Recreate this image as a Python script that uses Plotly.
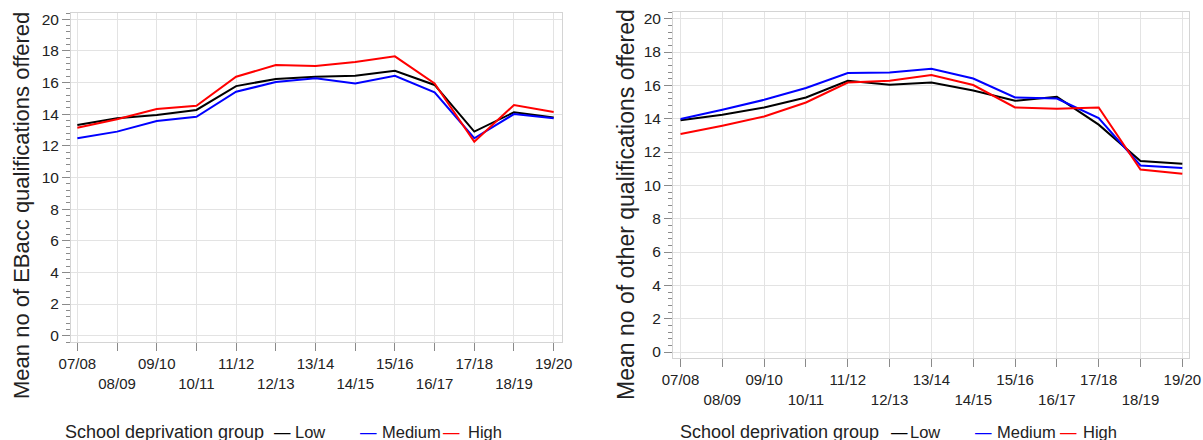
import plotly.graph_objects as go

W, H = 1203, 440

years = ["07/08", "08/09", "09/10", "10/11", "11/12", "12/13", "13/14",
         "14/15", "15/16", "16/17", "17/18", "18/19", "19/20"]

# Left chart: Mean no of EBacc qualifications offered
ebacc_low = [13.32, 13.74, 13.95, 14.27, 15.78, 16.23, 16.37, 16.43, 16.75, 15.85, 12.90, 14.12, 13.80]
ebacc_medium = [12.48, 12.90, 13.57, 13.84, 15.42, 16.04, 16.27, 15.95, 16.43, 15.38, 12.48, 14.01, 13.74]
ebacc_high = [13.15, 13.68, 14.33, 14.54, 16.37, 17.11, 17.05, 17.30, 17.66, 15.95, 12.26, 14.58, 14.14]

# Right chart: Mean no of other qualifications offered
other_low = [13.90, 14.24, 14.67, 15.27, 16.27, 16.04, 16.17, 15.69, 15.07, 15.31, 13.64, 11.46, 11.30]
other_medium = [13.98, 14.53, 15.13, 15.84, 16.74, 16.77, 17.00, 16.41, 15.27, 15.21, 14.04, 11.19, 11.04]
other_high = [13.08, 13.58, 14.13, 14.97, 16.17, 16.27, 16.62, 16.02, 14.67, 14.60, 14.67, 10.95, 10.70]

groups = ["Low", "Medium", "High"]
colors = {"Low": "#000000", "Medium": "#0000ff", "High": "#ff0000"}

tick_text = [y if i % 2 == 0 else "<br>" + y for i, y in enumerate(years)]

FONT = "Liberation Sans, Arial, sans-serif"
TXT = "#222222"
GRID = "#e3e3e3"
FRAME = "#d4d4d4"
TICKC = "#8a8a8a"

fig = go.Figure()

left = {"Low": ebacc_low, "Medium": ebacc_medium, "High": ebacc_high}
right = {"Low": other_low, "Medium": other_medium, "High": other_high}

for g in groups:
    fig.add_trace(go.Scatter(x=years, y=left[g], mode="lines", name=g,
                             line=dict(color=colors[g], width=2),
                             xaxis="x", yaxis="y", showlegend=False))
for g in groups:
    fig.add_trace(go.Scatter(x=years, y=right[g], mode="lines", name=g,
                             line=dict(color=colors[g], width=2),
                             xaxis="x2", yaxis="y2", showlegend=False))


def px_x(p):
    return p / W


def px_y(p):
    return 1 - p / H


xcommon = dict(type="category", tickmode="array", tickvals=years, ticktext=tick_text,
               showgrid=True, gridcolor=GRID, gridwidth=1,
               showline=True, linecolor=FRAME, linewidth=1, mirror=True,
               ticks="outside", ticklen=8, tickcolor=TICKC, tickwidth=1,
               tickfont=dict(size=15, color=TXT, family=FONT), tickangle=0,
               zeroline=False, fixedrange=True, automargin=False)
ycommon = dict(tickmode="linear", tick0=0, dtick=2,
               showgrid=True, gridcolor=GRID, gridwidth=1,
               showline=True, linecolor=FRAME, linewidth=1, mirror=True,
               ticks="outside", ticklen=8, tickcolor=TICKC, tickwidth=1,
               tickfont=dict(size=15.5, color=TXT, family=FONT),
               minor=dict(ticks="outside", ticklen=4, dtick=0.4, tick0=0,
                          tickcolor=TICKC, showgrid=False),
               zeroline=False, fixedrange=True, automargin=False)

fig.update_layout(
    width=W, height=H,
    margin=dict(l=0, r=0, t=0, b=0, autoexpand=False),
    paper_bgcolor="white", plot_bgcolor="white",
    font=dict(family=FONT, color=TXT),
    showlegend=False,
    xaxis=dict(xcommon, domain=[px_x(71), px_x(562)], range=[-0.16, 12.21], anchor="y"),
    yaxis=dict(ycommon, domain=[px_y(342), px_y(13)], range=[-0.4, 20.4], anchor="x"),
    xaxis2=dict(xcommon, domain=[px_x(673), px_x(1189)], range=[-0.18, 12.16], anchor="y2"),
    yaxis2=dict(ycommon, domain=[px_y(358), px_y(12)], range=[-0.36, 20.4], anchor="x2"),
)

annotations = []
# y-axis titles
annotations.append(dict(text="Mean no of EBacc qualifications offered", textangle=-90,
                        x=px_x(21), y=px_y(206), xref="paper", yref="paper",
                        xanchor="center", yanchor="middle",
                        showarrow=False, font=dict(size=22, color=TXT, family=FONT)))
annotations.append(dict(text="Mean no of other qualifications offered", textangle=-90,
                        x=px_x(626), y=px_y(205), xref="paper", yref="paper",
                        xanchor="center", yanchor="middle",
                        showarrow=False, font=dict(size=23, color=TXT, family=FONT)))

# legends (title + items) for each panel
LEG_Y = 432
legend_sets = [
    (63, [("Low", 272, 293), ("Medium", 358, 380), ("High", 441, 466)]),
    (678, [("Low", 889, 908), ("Medium", 973, 995), ("High", 1058, 1081)]),
]
for title_x, items in legend_sets:
    annotations.append(dict(text="School deprivation group", x=px_x(title_x), y=px_y(LEG_Y),
                            xref="paper", yref="paper", xanchor="left", yanchor="middle",
                            showarrow=False, font=dict(size=18, color=TXT, family=FONT)))
    for g, dx, lx in items:
        annotations.append(dict(text="—", x=px_x(dx), y=px_y(LEG_Y),
                                xref="paper", yref="paper", xanchor="left", yanchor="middle",
                                showarrow=False, font=dict(size=16.5, color=colors[g], family=FONT)))
        annotations.append(dict(text=g, x=px_x(lx), y=px_y(LEG_Y),
                                xref="paper", yref="paper", xanchor="left", yanchor="middle",
                                showarrow=False, font=dict(size=16.5, color=TXT, family=FONT)))

fig.update_layout(annotations=annotations)

fig.write_html("out.html")
